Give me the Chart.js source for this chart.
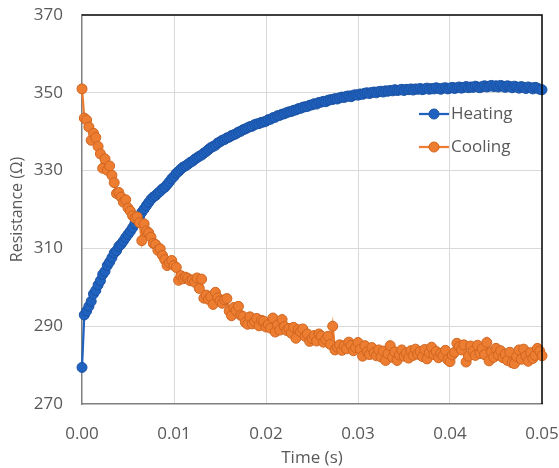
<!DOCTYPE html>
<html>
<head>
<meta charset="utf-8">
<script src="https://cdn.jsdelivr.net/npm/chart.js@4.4.1/dist/chart.umd.min.js"></script>
<style>
  html, body { margin: 0; padding: 0; background: #ffffff; }
  #wrap { width: 559px; height: 468px; }
</style>
</head>
<body>
<div id="wrap"><canvas id="chart" width="559" height="468"></canvas></div>
<script>
// Sample times (s)
const times = [
  0, 0.00025, 0.0005, 0.00075, 0.001, 0.00125, 0.0015, 0.00175, 0.002, 0.00225,
  0.0025, 0.00275, 0.003, 0.00325, 0.0035, 0.00375, 0.004, 0.00425, 0.0045, 0.00475,
  0.005, 0.00525, 0.0055, 0.00575, 0.006, 0.00625, 0.0065, 0.00675, 0.007, 0.00725,
  0.0075, 0.00775, 0.008, 0.00825, 0.0085, 0.00875, 0.009, 0.00925, 0.0095, 0.00975,
  0.01, 0.01025, 0.0105, 0.01075, 0.011, 0.01125, 0.0115, 0.01175, 0.012, 0.01225,
  0.0125, 0.01275, 0.013, 0.01325, 0.0135, 0.01375, 0.014, 0.01425, 0.0145, 0.01475,
  0.015, 0.01525, 0.0155, 0.01575, 0.016, 0.01625, 0.0165, 0.01675, 0.017, 0.01725,
  0.0175, 0.01775, 0.018, 0.01825, 0.0185, 0.01875, 0.019, 0.01925, 0.0195, 0.01975,
  0.02, 0.02025, 0.0205, 0.02075, 0.021, 0.02125, 0.0215, 0.02175, 0.022, 0.02225,
  0.0225, 0.02275, 0.023, 0.02325, 0.0235, 0.02375, 0.024, 0.02425, 0.0245, 0.02475,
  0.025, 0.02525, 0.0255, 0.02575, 0.026, 0.02625, 0.0265, 0.02675, 0.027, 0.02725,
  0.0275, 0.02775, 0.028, 0.02825, 0.0285, 0.02875, 0.029, 0.02925, 0.0295, 0.02975,
  0.03, 0.03025, 0.0305, 0.03075, 0.031, 0.03125, 0.0315, 0.03175, 0.032, 0.03225,
  0.0325, 0.03275, 0.033, 0.03325, 0.0335, 0.03375, 0.034, 0.03425, 0.0345, 0.03475,
  0.035, 0.03525, 0.0355, 0.03575, 0.036, 0.03625, 0.0365, 0.03675, 0.037, 0.03725,
  0.0375, 0.03775, 0.038, 0.03825, 0.0385, 0.03875, 0.039, 0.03925, 0.0395, 0.03975,
  0.04, 0.04025, 0.0405, 0.04075, 0.041, 0.04125, 0.0415, 0.04175, 0.042, 0.04225,
  0.0425, 0.04275, 0.043, 0.04325, 0.0435, 0.04375, 0.044, 0.04425, 0.0445, 0.04475,
  0.045, 0.04525, 0.0455, 0.04575, 0.046, 0.04625, 0.0465, 0.04675, 0.047, 0.04725,
  0.0475, 0.04775, 0.048, 0.04825, 0.0485, 0.04875, 0.049, 0.04925, 0.0495, 0.04975,
  0.05
];

// Resistance while heating (Ω)
const heating = [
  279.4, 292.9, 293.9, 295.1, 296.4, 298.3, 299.2, 300.6, 301.7, 303.3,
  304.1, 305.6, 306.5, 307.6, 308.8, 309.4, 310.5, 311.1, 311.9, 312.8,
  313.6, 314.4, 315.3, 316.4, 317.2, 318.1, 319.3, 320.1, 321.0, 321.8,
  322.6, 323.2, 323.6, 324.2, 324.7, 325.3, 325.7, 326.4, 327.1, 327.9,
  328.5, 329.3, 329.8, 330.4, 330.9, 331.2, 331.6, 332.1, 332.4, 332.9,
  333.3, 333.7, 334.0, 334.5, 334.9, 335.4, 335.9, 336.2, 336.5, 337.1,
  337.4, 337.8, 338.0, 338.4, 338.6, 339.0, 339.2, 339.5, 339.9, 340.1,
  340.5, 340.7, 341.0, 341.3, 341.4, 341.8, 342.0, 342.1, 342.4, 342.5,
  342.7, 343.1, 343.2, 343.6, 343.7, 344.1, 344.2, 344.5, 344.6, 344.9,
  345.1, 345.2, 345.5, 345.6, 345.9, 346.0, 346.3, 346.4, 346.5, 346.8,
  346.9, 347.2, 347.1, 347.5, 347.6, 347.8, 347.7, 348.1, 348.2, 348.3,
  348.5, 348.4, 348.7, 348.9, 348.8, 349.1, 349.2, 349.0, 349.4, 349.5,
  349.4, 349.7, 349.6, 349.9, 350.0, 349.8, 350.1, 350.2, 350.0, 350.3,
  350.4, 350.2, 350.5, 350.4, 350.6, 350.5, 350.8, 350.6, 350.7, 350.9,
  350.6, 350.9, 350.8, 351.0, 350.7, 351.0, 350.9, 351.1, 350.8, 351.0,
  351.2, 350.9, 351.1, 351.0, 351.3, 351.1, 350.9, 351.2, 351.3, 351.0,
  351.2, 351.4, 351.1, 351.3, 351.5, 351.2, 351.4, 351.6, 351.3, 351.5,
  351.4, 351.7, 351.5, 351.3, 351.6, 351.8, 351.5, 351.7, 351.9, 351.6,
  351.8, 351.5, 351.9, 351.7, 351.4, 351.8, 351.6, 351.3, 351.7, 351.5,
  351.2, 351.6, 351.4, 351.1, 351.5, 351.3, 351.0, 351.4, 351.2, 350.9,
  350.8
];

// Resistance while cooling (Ω)
const cooling = [
  351.0, 343.5, 343.0, 341.2, 337.8, 339.6, 338.5, 336.2, 334.3, 330.6,
  333.0, 330.1, 331.2, 328.8, 326.9, 324.1, 324.4, 323.2, 321.9, 322.5,
  320.4, 319.6, 318.4, 317.8, 318.1, 316.6, 312.0, 316.3, 314.5, 314.0,
  312.9, 311.3, 311.0, 309.5, 309.9, 308.2, 307.1, 305.6, 306.3, 306.9,
  305.6, 305.1, 301.8, 303.0, 302.2, 302.6, 302.3, 301.7, 301.9, 301.3,
  302.4, 299.7, 302.1, 297.2, 298.0, 296.9, 297.6, 295.6, 298.7, 297.3,
  296.5, 295.9, 296.8, 297.1, 293.9, 292.7, 294.8, 294.0, 295.1, 292.8,
  292.5, 291.0, 290.5, 292.4, 290.6, 291.2, 292.0, 290.1, 291.5, 291.3,
  289.8, 290.4, 289.5, 292.1, 288.5, 290.3, 289.0, 291.7, 289.9, 288.9,
  289.4, 288.2, 289.7, 286.9, 289.1, 288.6, 289.3, 287.4, 288.0, 286.1,
  286.8, 287.6, 286.2, 288.0, 287.5, 285.9, 286.6, 287.4, 285.3, 290.0,
  283.9, 284.6, 285.2, 283.8, 285.0, 284.2, 285.9, 285.1, 283.7, 284.5,
  285.8, 284.1, 282.3, 285.0, 283.4, 282.7, 284.5, 283.2, 282.4, 283.9,
  282.1, 283.6, 281.2, 282.9, 285.0, 282.0, 283.4, 281.2, 282.6, 283.9,
  282.3, 283.1, 281.8, 283.7, 282.5, 284.1, 282.8, 283.5, 282.2, 284.0,
  281.6, 283.2, 284.6, 282.7, 283.5, 281.9, 283.0, 282.4, 283.8, 281.4,
  280.9, 282.6, 283.3, 285.6, 284.7, 283.9, 285.2, 280.8, 282.3, 284.9,
  283.6, 282.5, 285.1, 283.0, 284.2, 282.7, 285.8, 281.1, 283.4, 282.0,
  284.3, 282.6, 283.7, 281.9, 282.8, 281.2, 283.3, 280.6, 280.4, 282.2,
  283.9, 281.5, 284.1, 282.3, 281.0, 283.2, 281.7, 282.5, 284.3, 283.6,
  282.4
];

// Axis ticks
const xTicks = [0, 0.01, 0.02, 0.03, 0.04, 0.05];
const xTickLabels = ['0.00', '0.01', '0.02', '0.03', '0.04', '0.05'];
const yTicks = [270, 290, 310, 330, 350, 370];

const seriesNames = ['Heating', 'Cooling'];

const BLUE = '#1f62c0';
const BLUE_EDGE = '#1b52a3';
const ORANGE = '#ed7d31';
const ORANGE_EDGE = '#cf6520';
const TEXT = '#595959';
const FONT = '"Open Sans", "Liberation Sans", sans-serif';

const toPoints = (vals) => vals.map((v, i) => ({ x: times[i], y: v }));

// Frame: black top and right edges of the plot area
const frame = {
  id: 'frame',
  afterDatasetsDraw(chart) {
    const { ctx, chartArea: a } = chart;
    ctx.save();
    ctx.strokeStyle = '#000000';
    ctx.lineWidth = 1.5;
    ctx.beginPath();
    ctx.moveTo(a.left, a.top);
    ctx.lineTo(a.right, a.top);
    ctx.lineTo(a.right, a.bottom);
    ctx.stroke();
    ctx.restore();
  }
};

// Legend drawn inside the plot area
const insideLegend = {
  id: 'insideLegend',
  afterDraw(chart) {
    const { ctx } = chart;
    const rows = [
      { label: seriesNames[0], color: BLUE, edge: BLUE_EDGE, y: 114 },
      { label: seriesNames[1], color: ORANGE, edge: ORANGE_EDGE, y: 147 }
    ];
    ctx.save();
    rows.forEach(r => {
      ctx.strokeStyle = r.color;
      ctx.lineWidth = 2.25;
      ctx.beginPath();
      ctx.moveTo(419, r.y);
      ctx.lineTo(449, r.y);
      ctx.stroke();
      ctx.beginPath();
      ctx.arc(434, r.y, 5, 0, Math.PI * 2);
      ctx.fillStyle = r.color;
      ctx.fill();
      ctx.lineWidth = 1;
      ctx.strokeStyle = r.edge;
      ctx.stroke();
      ctx.fillStyle = TEXT;
      ctx.font = '17px ' + FONT;
      ctx.textAlign = 'left';
      ctx.textBaseline = 'middle';
      ctx.fillText(r.label, 451, r.y);
    });
    ctx.restore();
  }
};

new Chart(document.getElementById('chart'), {
  type: 'line',
  data: {
    datasets: [
      {
        label: seriesNames[0],
        data: toPoints(heating),
        borderColor: BLUE,
        backgroundColor: BLUE,
        pointBackgroundColor: BLUE,
        pointBorderColor: BLUE_EDGE,
        pointBorderWidth: 1,
        pointRadius: 5,
        borderWidth: 2.25,
        tension: 0,
        clip: false,
        order: 1
      },
      {
        label: seriesNames[1],
        data: toPoints(cooling),
        borderColor: ORANGE,
        backgroundColor: ORANGE,
        pointBackgroundColor: ORANGE,
        pointBorderColor: ORANGE_EDGE,
        pointBorderWidth: 1,
        pointRadius: 5,
        borderWidth: 2.25,
        tension: 0,
        clip: false,
        order: 0
      }
    ]
  },
  options: {
    responsive: false,
    animation: false,
    events: [],
    layout: { padding: { left: 0, right: 17, top: 15, bottom: 0 } },
    plugins: {
      legend: { display: false },
      tooltip: { enabled: false }
    },
    scales: {
      x: {
        type: 'linear',
        min: 0,
        max: 0.05,
        afterBuildTicks: (s) => { s.ticks = xTicks.map(v => ({ value: v })); },
        afterFit: (s) => { s.height = 64; s.paddingLeft = 0; s.paddingRight = 0; },
        ticks: {
          padding: 20,
          color: TEXT,
          font: { family: FONT, size: 17 },
          callback: (v) => xTickLabels[xTicks.findIndex(t => Math.abs(t - v) < 1e-9)]
        },
        grid: {
          drawTicks: false,
          color: (c) => (c.index === 0 || c.index === xTicks.length - 1) ? 'rgba(0,0,0,0)' : '#d9d9d9',
          lineWidth: 1
        },
        border: { display: true, color: '#7f7f7f', width: 1.5 },
        title: {
          display: true,
          text: 'Time (s)',
          color: TEXT,
          font: { family: FONT, size: 17 },
          padding: { top: 0, bottom: 0 }
        }
      },
      y: {
        type: 'linear',
        min: 270,
        max: 370,
        afterBuildTicks: (s) => { s.ticks = yTicks.map(v => ({ value: v })); },
        afterFit: (s) => { s.width = 82; s.paddingTop = 0; s.paddingBottom = 0; },
        ticks: {
          padding: 19,
          color: TEXT,
          font: { family: FONT, size: 17 },
          callback: (v) => String(v)
        },
        grid: {
          drawTicks: false,
          color: (c) => (c.index === 0 || c.index === yTicks.length - 1) ? 'rgba(0,0,0,0)' : '#d9d9d9',
          lineWidth: 1
        },
        border: { display: true, color: '#7f7f7f', width: 1.5 },
        title: {
          display: true,
          text: 'Resistance (Ω)',
          color: TEXT,
          font: { family: FONT, size: 16 },
          padding: { top: 8, bottom: 8 }
        }
      }
    }
  },
  plugins: [frame, insideLegend]
});
</script>
</body>
</html>
